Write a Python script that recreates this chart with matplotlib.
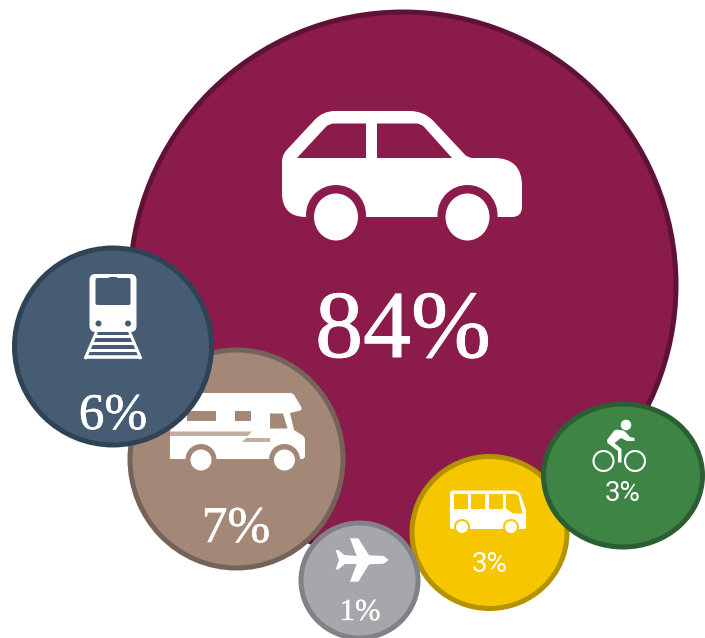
import numpy as np
from matplotlib import pyplot as plt
from matplotlib import patheffects
from matplotlib.patches import Ellipse, PathPatch
from matplotlib.path import Path

# share of trips per mode, in drawing order (later ones sit on top)
modes = ['car', 'rv', 'train', 'bus', 'plane', 'bike']
shares = [84, 7, 6, 3, 1, 3]

# layout in pixels, picture is 705x638
centers = [(403, 285), (236.5, 459), (113, 346.5), (489.5, 532.5), (359.5, 580.5), (623, 475.5)]
radii = [(273, 273), (106.5, 109), (98.5, 98.5), (77.5, 76), (58.5, 57.5), (79.5, 71.5)]
fills = ['#8a1b4a', '#a38877', '#465c72', '#f6c600', '#a5a7ab', '#3d8445']
edges = ['#5f1237', '#75635a', '#2f4356', '#b59200', '#808287', '#2b5e33']
label_xy = [(403, 357), (236, 542), (113, 429), (489.5, 572), (360, 620), (622.5, 501)]
label_size = [69, 37, 37, 20, 22, 20]
label_font = ['Liberation Serif', 'Liberation Serif', 'Liberation Serif', 'Roboto', 'Liberation Serif', 'Roboto']
label_thicken = [0.7, 0.4, 0.4, 0, 0.2, 0]

fig = plt.figure(figsize=(7.05, 6.38), dpi=100)
ax = fig.add_axes([0, 0, 1, 1])
ax.set_xlim(0, 705)
ax.set_ylim(638, 0)
ax.axis('off')

z = [2]


def shape(pts, color='white', r=0):
    # closed polygon, a third value on a point rounds that corner
    verts, codes = [], []
    n = len(pts)
    for i, p in enumerate(pts):
        rad = p[2] if len(p) > 2 else r
        here = np.array(p[:2], float)
        prev = np.array(pts[i - 1][:2], float)
        nxt = np.array(pts[(i + 1) % n][:2], float)
        if rad > 0:
            a = here + (prev - here) / np.linalg.norm(prev - here) * rad
            b = here + (nxt - here) / np.linalg.norm(nxt - here) * rad
            verts += [a, here, b]
            codes += [Path.LINETO, Path.CURVE3, Path.CURVE3]
        else:
            verts.append(here)
            codes.append(Path.LINETO)
    codes[0] = Path.MOVETO
    verts.append(verts[0])
    codes.append(Path.CLOSEPOLY)
    ax.add_patch(PathPatch(Path(verts, codes), fc=color, ec='none', zorder=z[0]))


def dot(x, y, r, color='white', ry=None):
    ax.add_patch(Ellipse((x, y), 2 * r, 2 * (ry or r), fc=color, ec='none', zorder=z[0]))


def rect(x0, y0, x1, y1, color='white', r=0):
    shape([(x0, y0), (x1, y0), (x1, y1), (x0, y1)], color, r)


def line(x0, y0, x1, y1, w, color='white'):
    ax.plot([x0, x1], [y0, y1], color=color, lw=w * 0.72, solid_capstyle='butt', zorder=z[0])


def draw_car(bg):
    shape([(282, 155, 7), (323, 111, 12), (424, 111, 14), (468, 158, 5), (522, 158, 28),
           (522, 217, 10), (282, 217, 24)])
    shape([(297, 158), (329, 123.5, 5), (366, 123.5), (366, 158)], bg)
    shape([(377, 123.5), (421, 123.5, 5), (452, 158), (377, 158)], bg)
    dot(336, 215, 30, bg)
    dot(467.5, 215, 30, bg)
    dot(336, 217, 22, ry=23.5)
    dot(467.5, 217, 22, ry=23.5)


def draw_rv(bg):
    shape([(178, 393), (293, 393, 3), (303, 410, 4), (290, 413), (294, 430), (305, 437, 3),
           (305, 459, 3), (170, 459), (170, 432)])
    rect(186.5, 410.5, 216, 421, bg)
    rect(235, 410.5, 251, 421, bg)
    shape([(270, 413.5), (283, 413.5), (287.5, 428.5), (270, 428.5)], bg)
    # thin lightning stripe along the side
    shape([(170, 431.5), (252, 431.5), (246, 438), (270, 438), (270, 442), (242, 442), (248, 436), (170, 436)],
          '#c3aea2')
    dot(201, 459.5, 15.5, bg)
    dot(284.5, 459.5, 15.5, bg)
    dot(201, 460, 10.5)
    dot(284.5, 460, 10.5)


def draw_train(bg):
    rect(89.5, 274, 136.5, 332, r=6)
    shape([(95.5, 278, 2), (108, 278), (110, 277), (116, 277), (118, 278), (130.5, 278, 2),
           (130.5, 305, 2), (95.5, 305, 2)], bg)
    dot(98.5, 323.5, 3, bg)
    dot(128, 323.5, 3, bg)
    line(96.5, 332, 85, 359, 3)
    line(129.5, 332, 141, 359, 3)
    for y, x0, x1 in [(335.5, 95, 131), (342.5, 92, 134), (349.5, 89, 137), (356.5, 86, 140)]:
        line(x0, y, x1, y, 3 if y < 350 else 3.5)


def draw_plane(bg):
    pts = [(122, 450), (130, 450), (148, 465), (185, 468), (165, 415), (190, 415), (222, 466), (266, 468),
           (281, 480), (266, 491), (222, 493), (190, 545), (165, 545), (185, 492), (150, 492),
           (130, 508), (122, 508), (132, 480)]
    shape([(x / 3 + 295, y / 3 + 400) for x, y in pts])


def draw_bus(bg):
    shape([(450, 490.5, 3), (519, 490.5, 6), (526, 510), (526, 529, 2), (450, 529, 2)])
    rect(453.5, 494, 467.5, 508.5, bg)
    rect(471, 494, 485, 508.5, bg)
    rect(488.5, 494, 502.5, 508.5, bg)
    shape([(506, 494), (518, 494, 3), (522.5, 513.5), (513, 513.5), (506, 508.5)], bg)
    dot(462, 527, 8, bg)
    dot(511, 527, 8, bg)
    rect(450, 529.5, 526, 536, bg)
    dot(462, 527, 6)
    dot(511, 527, 6)


def draw_bike(bg):
    dot(626, 425, 5.3)
    shape([(607, 440), (615, 429.5, 2), (624, 430.5, 2), (630, 437), (634.5, 438), (634.5, 441), (627, 441),
           (621, 438), (614.5, 443), (621.5, 449), (621.5, 462.5), (618, 462.5), (618, 451), (607.5, 443)])
    for x in [603.5, 635]:
        ax.add_patch(Ellipse((x, 461), 20, 20, fc='none', ec='white', lw=1.5, zorder=z[0]))


icons = {'car': draw_car, 'rv': draw_rv, 'train': draw_train,
         'plane': draw_plane, 'bus': draw_bus, 'bike': draw_bike}

for i, mode in enumerate(modes):
    ax.add_patch(Ellipse(centers[i], 2 * radii[i][0], 2 * radii[i][1], fc=fills[i], ec=edges[i],
                         lw=3.6, zorder=z[0]))
    icons[mode](fills[i])
    t = ax.text(label_xy[i][0], label_xy[i][1], f'{shares[i]}%', color='white', ha='center', va='baseline',
                fontsize=label_size[i], family=label_font[i], zorder=z[0])
    if label_thicken[i] > 0:
        # the serif is thinner than the slab face in the picture
        t.set_path_effects([patheffects.withStroke(linewidth=label_thicken[i], foreground='white')])
    z[0] += 1

fig.savefig('out.png', dpi=100)
